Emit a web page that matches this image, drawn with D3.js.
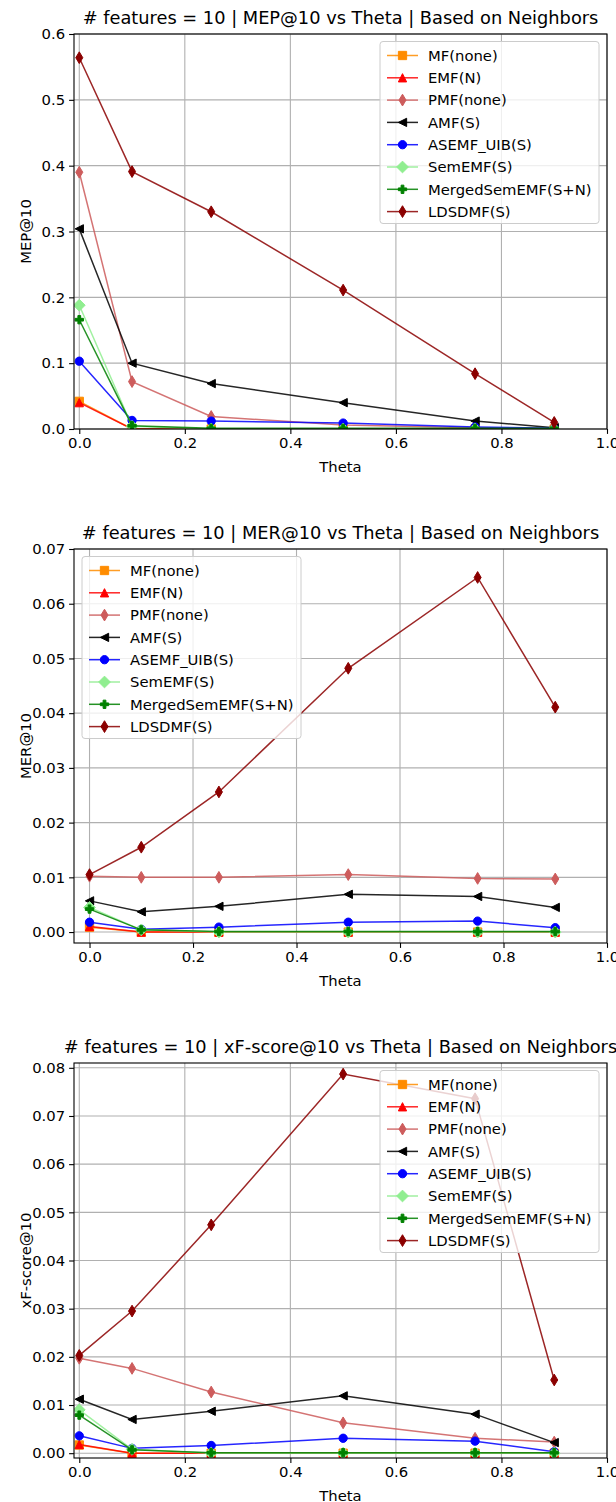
<!DOCTYPE html>
<html>
<head>
<meta charset="utf-8">
<script src="https://cdnjs.cloudflare.com/ajax/libs/d3/7.8.5/d3.min.js"></script>
<style>
  body { margin: 0; background: #fff; }
  text { font-family: "DejaVu Sans", sans-serif; fill: #000; }
</style>
</head>
<body>
<div id="chart"></div>
<script>
// ---------------- data ----------------
const theta = [0, 0.1, 0.25, 0.5, 0.75, 0.9]

const methods = ["MF(none)", "EMF(N)", "PMF(none)", "AMF(S)", "ASEMF_UIB(S)",
  "SemEMF(S)", "MergedSemEMF(S+N)", "LDSDMF(S)"]

// one row per method, one value per theta
const mep = [
  [0.042, 0, 0, 0, 0, 0],
  [0.040, 0, 0, 0, 0, 0],
  [0.390, 0.072, 0.019, 0.006, 0.002, 0.001],
  [0.304, 0.100, 0.069, 0.040, 0.012, 0.002],
  [0.103, 0.013, 0.012, 0.009, 0.003, 0.001],
  [0.188, 0.004, 0, 0, 0, 0],
  [0.166, 0.005, 0.001, 0.001, 0.001, 0.001],
  [0.564, 0.391, 0.330, 0.211, 0.084, 0.010]
]

const mer = [
  [0.0009, 0, 0, 0, 0, 0],
  [0.0010, 0, 0, 0, 0, 0],
  [0.0102, 0.0100, 0.0100, 0.0105, 0.0098, 0.0097],
  [0.0057, 0.0037, 0.0047, 0.0069, 0.0065, 0.0045],
  [0.0018, 0.0005, 0.0009, 0.0018, 0.0020, 0.0008],
  [0.0045, 0.0004, 0, 0, 0, 0],
  [0.0042, 0.0004, 0.0001, 0.0001, 0.0001, 0.0001],
  [0.0105, 0.0155, 0.0256, 0.0482, 0.0648, 0.0411]
]

const xfscore = [
  [0.0017, 0, 0, 0, 0, 0],
  [0.0018, 0, 0, 0, 0, 0],
  [0.0197, 0.0176, 0.0127, 0.0063, 0.0031, 0.0023],
  [0.0112, 0.0070, 0.0087, 0.0119, 0.0081, 0.0022],
  [0.0036, 0.0010, 0.0016, 0.0031, 0.0025, 0.0003],
  [0.0090, 0.0008, 0, 0, 0, 0],
  [0.0079, 0.0007, 0.0001, 0.0001, 0.0001, 0.0001],
  [0.0203, 0.0295, 0.0474, 0.0787, 0.0736, 0.0152]
]

const xTicks = [0, 0.2, 0.4, 0.6, 0.8, 1.0]
const mepTicks = [0, 0.1, 0.2, 0.3, 0.4, 0.5, 0.6]
const merTicks = [0, 0.01, 0.02, 0.03, 0.04, 0.05, 0.06, 0.07]
const xfTicks = [0, 0.01, 0.02, 0.03, 0.04, 0.05, 0.06, 0.07, 0.08]

// ---------------- styles ----------------
const colors = ["#ff8c00", "#ff0000", "#cd5c5c", "#000000", "#0000ff", "#90ee90", "#008000", "#8b0000"]
const markers = ["square", "triUp", "thinDiamond", "triLeft", "circle", "diamond", "plus", "thinDiamond"]

const width = 616
const height = 1502
const left = 74
const right = 607
const ms = 8.3
const fs = "14.8px"

const panels = [
  { title: "# features = 10 | MEP@10 vs Theta | Based on Neighbors", ylabel: "MEP@10",
    values: mep, ticks: mepTicks, fmt: ".1f", top: 34, bottom: 429,
    xDomain: [-0.01, 1.0], yDomain: [0, 0.6], legend: "right" },
  { title: "# features = 10 | MER@10 vs Theta | Based on Neighbors", ylabel: "MER@10",
    values: mer, ticks: merTicks, fmt: ".2f", top: 549, bottom: 943,
    xDomain: [-0.03, 1.0], yDomain: [-0.002, 0.07], legend: "left" },
  { title: "# features = 10 | xF-score@10 vs Theta | Based on Neighbors", ylabel: "xF-score@10",
    values: xfscore, ticks: xfTicks, fmt: ".2f", top: 1063, bottom: 1458,
    xDomain: [-0.01, 1.0], yDomain: [-0.001, 0.081], legend: "right" }
]

// marker shapes, centred on 0,0
const markerPath = (type) => {
  const h = ms / 2
  const d = ms * Math.SQRT1_2
  const a = ms / 6
  switch (type) {
    case "square": return `M${-h},${-h}H${h}V${h}H${-h}Z`
    case "circle": return d3.arc()({ innerRadius: 0, outerRadius: h, startAngle: 0, endAngle: 2 * Math.PI })
    case "triUp": return `M0,${-h}L${h},${h}L${-h},${h}Z`
    case "triLeft": return `M${-h},0L${h},${-h}L${h},${h}Z`
    case "diamond": return `M0,${-d}L${d},0L0,${d}L${-d},0Z`
    case "thinDiamond": return `M0,${-d}L${d * 0.6},0L0,${d}L${-d * 0.6},0Z`
    case "plus": return `M${-a},${-h}H${a}V${-a}H${h}V${a}H${a}V${h}H${-a}V${a}H${-h}V${-a}H${-a}Z`
  }
}

const svg = d3.select("#chart")
  .append("svg")
  .attr("width", width)
  .attr("height", height)

panels.forEach((p, pi) => {
  const x = d3.scaleLinear().domain(p.xDomain).range([left, right])
  const y = d3.scaleLinear().domain(p.yDomain).range([p.bottom, p.top])
  const g = svg.append("g")

  // grid
  g.append("g").selectAll("line").data(xTicks).enter().append("line")
    .attr("x1", d => x(d)).attr("x2", d => x(d))
    .attr("y1", p.top).attr("y2", p.bottom)
    .attr("stroke", "#b0b0b0").attr("stroke-width", 1.1)
  g.append("g").selectAll("line").data(p.ticks).enter().append("line")
    .attr("x1", left).attr("x2", right)
    .attr("y1", d => y(d)).attr("y2", d => y(d))
    .attr("stroke", "#b0b0b0").attr("stroke-width", 1.1)

  // clip to axes
  const clipId = "clip" + pi
  svg.append("clipPath").attr("id", clipId)
    .append("rect").attr("x", left).attr("y", p.top)
    .attr("width", right - left).attr("height", p.bottom - p.top)

  const plot = g.append("g").attr("clip-path", `url(#${clipId})`)
  const line = d3.line().x((d, i) => x(theta[i])).y(d => y(d))

  p.values.forEach((vals, mi) => {
    const s = plot.append("g")
    s.append("path")
      .attr("d", line(vals))
      .attr("fill", "none")
      .attr("stroke", colors[mi])
      .attr("stroke-width", 1.5)
      .attr("opacity", 0.85)
    s.selectAll("path.m").data(vals).enter().append("path")
      .attr("class", "m")
      .attr("d", markerPath(markers[mi]))
      .attr("transform", (d, i) => `translate(${x(theta[i])},${y(d)})`)
      .attr("fill", colors[mi])
      .attr("stroke", colors[mi])
      .attr("stroke-width", 1)
  })

  // axes
  const xAxis = d3.axisBottom(x).tickValues(xTicks).tickFormat(d3.format(".1f"))
    .tickSize(4.9).tickPadding(4)
  const yAxis = d3.axisLeft(y).tickValues(p.ticks).tickFormat(d3.format(p.fmt))
    .tickSize(4.9).tickPadding(4)

  const gx = g.append("g").attr("transform", `translate(0,${p.bottom})`).call(xAxis)
  const gy = g.append("g").attr("transform", `translate(${left},0)`).call(yAxis)
  ;[gx, gy].forEach(a => {
    a.select(".domain").remove()
    a.selectAll("line").attr("stroke", "#000").attr("stroke-width", 1.1)
    a.selectAll("text").style("font-size", fs).attr("fill", "#000")
  })

  // spines
  g.append("rect")
    .attr("x", left).attr("y", p.top)
    .attr("width", right - left).attr("height", p.bottom - p.top)
    .attr("fill", "none").attr("stroke", "#000").attr("stroke-width", 1.1)

  // title and labels
  g.append("text")
    .attr("x", (left + right) / 2).attr("y", p.top - 10)
    .attr("text-anchor", "middle")
    .style("font-size", "17.8px")
    .text(p.title)

  g.append("text")
    .attr("x", (left + right) / 2).attr("y", p.bottom + 43)
    .attr("text-anchor", "middle")
    .style("font-size", fs)
    .text("Theta")

  g.append("text")
    .attr("transform", `translate(31,${(p.top + p.bottom) / 2}) rotate(-90)`)
    .attr("text-anchor", "middle")
    .style("font-size", fs)
    .text(p.ylabel)

  // legend
  const lx = p.legend === "right" ? right - 8 - 219 : left + 8
  const ly = p.top + 7.5
  const legend = g.append("g").attr("transform", `translate(${lx},${ly})`)
  legend.append("rect")
    .attr("width", 219).attr("height", 182).attr("rx", 3)
    .attr("fill", "#fff").attr("fill-opacity", 0.8)
    .attr("stroke", "#cccccc").attr("stroke-width", 1)

  methods.forEach((m, mi) => {
    const row = legend.append("g").attr("transform", `translate(0,${14 + mi * 22.3})`)
    row.append("line")
      .attr("x1", 7).attr("x2", 38)
      .attr("stroke", colors[mi]).attr("stroke-width", 1.5).attr("opacity", 0.85)
    row.append("path")
      .attr("d", markerPath(markers[mi]))
      .attr("transform", "translate(22.5,0)")
      .attr("fill", colors[mi]).attr("stroke", colors[mi]).attr("stroke-width", 1)
    row.append("text")
      .attr("x", 48).attr("y", 5.3)
      .style("font-size", fs)
      .text(m)
  })
})
</script>
</body>
</html>
